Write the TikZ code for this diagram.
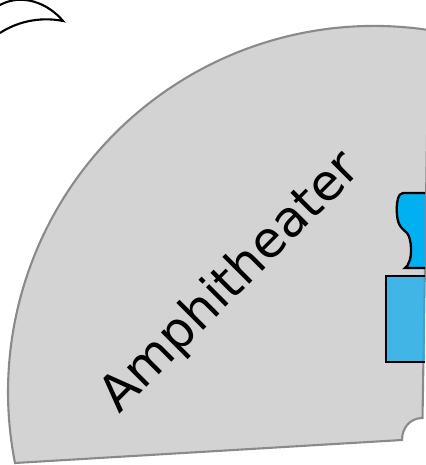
\documentclass[tikz,border=0pt]{standalone}
\usepackage{fontspec}
\setmainfont{DejaVu Sans}
\definecolor{stagegray}{HTML}{D3D3D3}
\definecolor{stageline}{HTML}{8A8A8A}
\definecolor{topblue}{HTML}{00B0F0}
\definecolor{boxblue}{HTML}{1DAFEB}
\begin{document}
\begin{tikzpicture}[x=0.02cm, y=0.02cm]
    \useasboundingbox (0,0) rectangle (425,465);

    % seating area
    \draw[line width=1.2, stageline, fill=stagegray]
      (15,2) arc (191.2:81.4:366) -- (422.5,47)
      .. controls (410,47) and (402,37) .. (402,25) -- cycle
    ;
    \node[rotate=45, font=\fontsize{28.5}{28.5}\selectfont] (amphitheater) at (231,182) {Amphitheater};

    % blue pieces on the right
    \fill[boxblue, fill opacity=0.8] (386,189) rectangle (425,103);
    \draw[line width=1.5] (425,103) -- (386,103) -- (386,189) -- (425,189);
    \draw[line width=1.3, fill=topblue]
      (425,272) -- (403,272)
      .. controls (398,272) and (396,262) .. (397,250)
      .. controls (398,238) and (403,236) .. (407,232)
      .. controls (412,226) and (412,208) .. (409,203)
      .. controls (408,200) and (407,198) .. (405,197) -- (425,197)
    ;

    % crescent
    \draw[line width=1.2, fill=white]
      (0,432) .. controls (15,442) and (38,449) .. (63,444)
      .. controls (48,462) and (22,472) .. (0,460)
    ;
\end{tikzpicture}
\end{document}
